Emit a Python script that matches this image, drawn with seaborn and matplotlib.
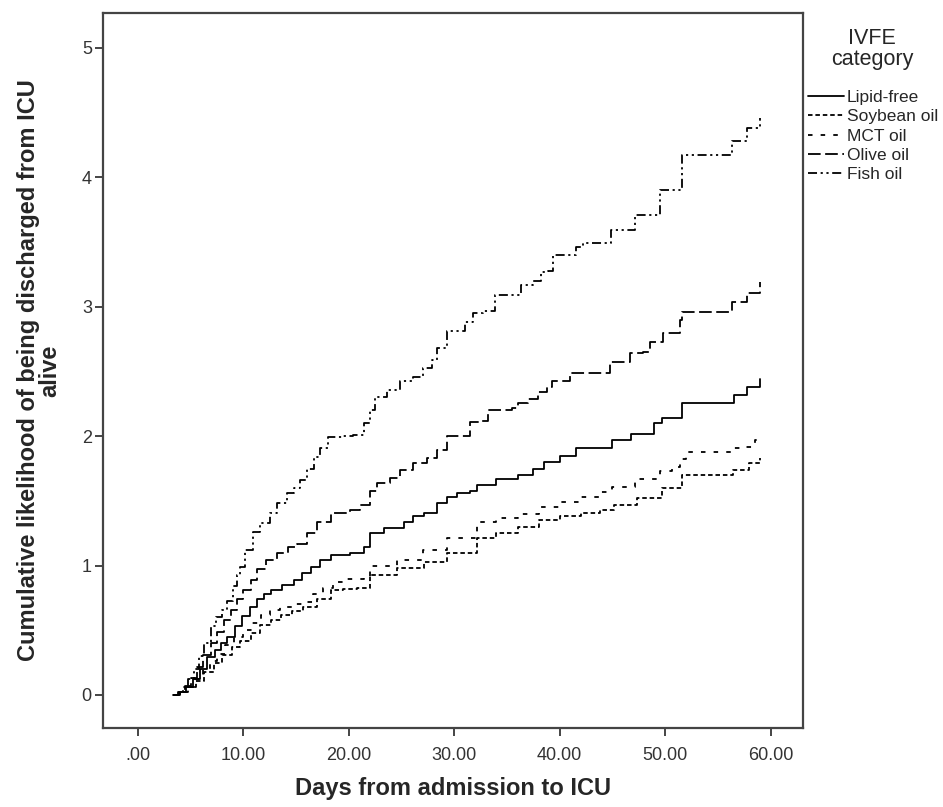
import numpy as np
import pandas as pd
import matplotlib
matplotlib.use("Agg")
import matplotlib.pyplot as plt
from matplotlib.lines import Line2D
import seaborn as sns

# -----------------------------
# DATA
# -----------------------------
groups = ["Lipid-free", "Soybean oil", "MCT oil", "Olive oil", "Fish oil"]

lf_days = [3.3, 4.0, 4.6, 5.2, 5.9, 6.6, 7.3, 7.9, 8.5, 9.2, 9.9, 10.6, 11.3, 12.0, 12.6,
           13.7, 14.8, 15.6, 16.4, 17.3, 18.3, 20.1, 21.4, 22.0, 23.3, 25.2, 26.1, 27.1,
           28.4, 29.3, 30.3, 31.5, 32.2, 34.0, 36.0, 37.5, 38.5, 40.0, 41.5, 45.0, 46.8,
           48.9, 49.7, 51.6, 56.5, 57.8, 59.0]
lf_vals = [0, 0.02, 0.06, 0.12, 0.20, 0.29, 0.35, 0.40, 0.45, 0.53, 0.61, 0.68, 0.74, 0.78,
           0.81, 0.85, 0.89, 0.94, 0.99, 1.04, 1.08, 1.10, 1.14, 1.25, 1.29, 1.34, 1.38,
           1.41, 1.48, 1.53, 1.56, 1.58, 1.62, 1.67, 1.70, 1.75, 1.80, 1.85, 1.91, 1.97,
           2.02, 2.10, 2.14, 2.26, 2.32, 2.38, 2.44]

soy_days = [3.3, 4.0, 4.8, 5.5, 6.3, 7.2, 8.0, 8.9, 9.7, 10.7, 11.6, 12.6, 13.6, 14.6, 15.7,
            17.0, 18.3, 19.5, 20.8, 22.0, 24.6, 27.1, 29.3, 32.2, 34.0, 36.0, 38.0, 40.0,
            42.0, 43.8, 45.1, 47.3, 49.7, 51.6, 56.4, 57.9, 59.0]
soy_vals = [0, 0.02, 0.06, 0.11, 0.18, 0.25, 0.31, 0.37, 0.42, 0.48, 0.54, 0.58, 0.62, 0.65,
            0.68, 0.74, 0.81, 0.82, 0.83, 0.93, 0.98, 1.03, 1.10, 1.21, 1.25, 1.30, 1.35,
            1.38, 1.41, 1.43, 1.47, 1.52, 1.60, 1.70, 1.74, 1.79, 1.83]

mct_days = [3.3, 4.0, 4.7, 5.5, 6.2, 6.8, 7.5, 8.3, 9.1, 10.0, 10.8, 11.7, 12.5, 13.5, 14.6,
            15.7, 16.6, 17.6, 18.5, 19.5, 21.4, 22.0, 24.6, 27.0, 29.3, 32.2, 34.0, 36.0,
            38.0, 40.0, 42.0, 43.8, 45.0, 47.1, 49.5, 50.6, 51.4, 52.0, 56.3, 57.4, 58.5,
            59.0]
mct_vals = [0, 0.02, 0.06, 0.12, 0.20, 0.26, 0.32, 0.39, 0.45, 0.50, 0.56, 0.62, 0.66, 0.68,
            0.70, 0.72, 0.78, 0.83, 0.87, 0.90, 0.91, 1.00, 1.04, 1.12, 1.21, 1.34, 1.37,
            1.40, 1.45, 1.49, 1.53, 1.57, 1.61, 1.67, 1.73, 1.76, 1.82, 1.88, 1.91, 1.92,
            1.97, 1.98]

olive_days = [3.3, 3.9, 4.5, 5.0, 5.6, 6.2, 6.9, 7.5, 8.2, 8.8, 9.4, 10.0, 10.7, 11.3, 12.2,
              13.2, 14.2, 15.1, 16.0, 17.0, 18.3, 20.1, 21.1, 22.0, 22.7, 23.9, 24.9, 26.1,
              27.4, 28.4, 29.3, 31.5, 32.5, 33.2, 35.5, 36.0, 37.0, 37.9, 38.8, 39.3, 41.0,
              44.8, 46.7, 47.9, 48.6, 49.8, 51.4, 51.6, 56.3, 57.8, 59.0]
olive_vals = [0, 0.02, 0.07, 0.13, 0.22, 0.31, 0.40, 0.49, 0.58, 0.66, 0.74, 0.81, 0.89,
              0.97, 1.04, 1.10, 1.14, 1.17, 1.25, 1.34, 1.41, 1.43, 1.47, 1.58, 1.64, 1.68,
              1.74, 1.79, 1.83, 1.89, 2.00, 2.11, 2.12, 2.20, 2.22, 2.26, 2.29, 2.34, 2.38,
              2.43, 2.49, 2.57, 2.64, 2.65, 2.73, 2.80, 2.90, 2.96, 3.04, 3.11, 3.19]

fish_days = [3.3, 3.8, 4.3, 4.8, 5.3, 5.8, 6.3, 6.9, 7.4, 8.0, 8.5, 9.0, 9.4, 9.7, 10.2,
             10.9, 11.6, 12.5, 13.2, 14.1, 14.8, 15.4, 16.0, 16.7, 17.3, 18.0, 19.4, 20.4,
             21.4, 22.0, 22.5, 23.6, 24.9, 26.1, 27.0, 27.9, 28.4, 29.3, 31.0, 31.8, 32.7,
             33.9, 36.3, 37.5, 38.2, 38.9, 39.4, 41.5, 42.2, 44.9, 47.1, 49.5, 51.6, 56.3,
             57.8, 59.0]
fish_vals = [0, 0.02, 0.06, 0.12, 0.20, 0.30, 0.40, 0.53, 0.60, 0.66, 0.73, 0.84, 0.93, 0.99,
             1.12, 1.26, 1.33, 1.41, 1.48, 1.56, 1.60, 1.66, 1.75, 1.84, 1.91, 1.99, 2.00,
             2.01, 2.10, 2.20, 2.30, 2.36, 2.43, 2.46, 2.53, 2.59, 2.68, 2.81, 2.88, 2.95,
             2.97, 3.09, 3.17, 3.20, 3.27, 3.28, 3.40, 3.46, 3.49, 3.59, 3.71, 3.90, 4.17,
             4.28, 4.38, 4.46]

x_ticks = [0, 10, 20, 30, 40, 50, 60]
x_tick_labels = [".00", "10.00", "20.00", "30.00", "40.00", "50.00", "60.00"]
y_ticks = [0, 1, 2, 3, 4, 5]

# -----------------------------
# LONG FORMAT TABLE
# -----------------------------
series = [(lf_days, lf_vals), (soy_days, soy_vals), (mct_days, mct_vals),
          (olive_days, olive_vals), (fish_days, fish_vals)]
frames = []
for name, (d, v) in zip(groups, series):
    frames.append(pd.DataFrame({"day": d, "value": v, "group": name}))
df = pd.concat(frames, ignore_index=True)

dash_styles = {
    "Lipid-free": "",
    "Soybean oil": (2.5, 1.6),
    "MCT oil": (2.5, 4.5),
    "Olive oil": (7, 2.5),
    "Fish oil": (5, 2, 1.2, 2, 1.2, 2),
}

# -----------------------------
# PLOT
# -----------------------------
sns.set_style("white")
plt.rcParams["font.family"] = ["Liberation Sans", "DejaVu Sans"]

fig = plt.figure(figsize=(9.43, 8.07), dpi=100)
ax = fig.add_axes([0.1092, 0.0979, 0.7423, 0.886])

sns.lineplot(data=df, x="day", y="value", hue="group", style="group",
             hue_order=groups, style_order=groups,
             palette=["black"] * 5, dashes=dash_styles,
             drawstyle="steps-post", estimator=None, sort=False,
             linewidth=1.3, legend=False, ax=ax)

ax.set_xlim(-3.3, 63.06)
ax.set_ylim(-0.255, 5.27)
ax.set_xticks(x_ticks)
ax.set_xticklabels(x_tick_labels)
ax.set_yticks(y_ticks)

for s in ax.spines.values():
    s.set_color("#444444")
    s.set_linewidth(1.6)
ax.tick_params(axis="both", direction="out", length=6, width=1.4, color="#444444",
               labelsize=13, labelcolor="#333333", pad=2)
ax.tick_params(axis="x", bottom=True, top=False, pad=8)
ax.tick_params(axis="y", left=True, right=False)

ax.set_xlabel("Days from admission to ICU", fontsize=17, fontweight="bold", labelpad=9)
ax.set_ylabel("Cumulative likelihood of being discharged from ICU\nalive",
              fontsize=17, fontweight="bold", labelpad=15, linespacing=0.9)

# legend: title as its own text, entries below
fig.text(872 / 943, 1 - 49.5 / 807, "IVFE\ncategory", ha="center", va="center",
         fontsize=15.5, linespacing=1.0)
handles = [Line2D([], [], color="black", linewidth=1.3,
                  linestyle=(0, dash_styles[g]) if dash_styles[g] else "-") for g in groups]
leg = fig.legend(handles, groups, loc="upper left",
                 bbox_to_anchor=(808 / 943, 1 - 90 / 807), frameon=False, fontsize=12.5,
                 handlelength=2.1, handletextpad=0.15, labelspacing=0.24,
                 borderpad=0, borderaxespad=0)

fig.savefig("out.png", dpi=100)
